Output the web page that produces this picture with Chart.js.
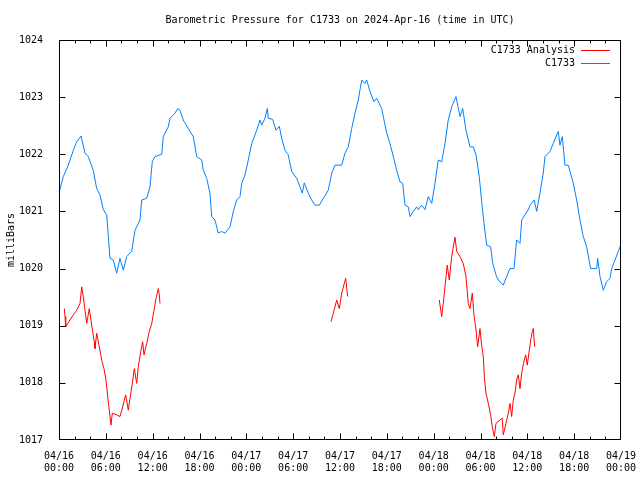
<!DOCTYPE html>
<html>
<head>
<meta charset="utf-8">
<script src="https://cdn.jsdelivr.net/npm/chart.js@4"></script>
<style>
  body { margin: 0; background: #fff; }
  canvas { display: block; }
</style>
</head>
<body>
<canvas id="chart" width="640" height="480"></canvas>
<script>
// hours since 04/16 00:00 UTC
var stationHours = [0.1, 0.55, 1.19, 1.83, 2.27, 2.82, 3.33, 3.75, 4.39, 4.83, 5.25, 5.68, 6.11, 6.32, 6.53, 6.96, 7.39, 7.81, 8.24, 8.67,
    9.31, 9.74, 10.38, 10.59, 11.24, 11.66, 11.95, 12.3, 13.16, 13.36, 14.0, 14.22, 14.86, 15.21, 15.5, 15.92, 16.56, 17.2, 17.64, 18.28,
    18.49, 18.92, 19.34, 19.56, 19.98, 20.41, 20.84, 21.27, 21.91, 22.33, 22.76, 23.19, 23.41, 23.83, 24.25, 24.69, 25.33, 25.75, 25.97, 26.39,
    26.68, 26.81, 27.38, 27.8, 28.22, 28.53, 28.95, 29.37, 29.81, 30.45, 30.87, 31.17, 31.42, 31.94, 32.37, 32.8, 33.35, 33.86, 34.5, 34.94,
    35.36, 36.22, 36.64, 37.06, 37.5, 37.92, 38.34, 38.78, 39.2, 39.42, 39.84, 40.35, 40.7, 41.34, 41.98, 42.4, 42.83, 43.26, 43.68, 44.03,
    44.33, 44.75, 44.97, 45.39, 45.82, 46.03, 46.46, 46.89, 47.31, 47.75, 48.17, 48.59, 49.03, 49.45, 49.87, 50.31, 50.86, 51.37, 51.72, 52.14,
    52.65, 53.08, 53.42, 53.84, 54.15, 54.45, 54.79, 55.3, 55.56, 55.98, 56.28, 56.92, 57.35, 57.78, 58.29, 58.63, 59.06, 59.28, 59.7, 60.12,
    60.34, 60.89, 61.2, 61.62, 62.04, 62.26, 62.9, 63.32, 63.96, 64.18, 64.48, 64.82, 65.24, 65.89, 66.32, 66.74, 67.17, 67.6, 68.11, 68.88,
    69.01, 69.31, 69.73, 70.16, 70.59, 70.81, 71.23, 71.65, 71.96];
var stationValues = [1021.37, 1021.61, 1021.81, 1022.07, 1022.22, 1022.32, 1022.02, 1021.96, 1021.72, 1021.40, 1021.29, 1021.03, 1020.94, 1020.56, 1020.18, 1020.15, 1019.92, 1020.18, 1019.97, 1020.21,
    1020.30, 1020.67, 1020.85, 1021.20, 1021.23, 1021.43, 1021.87, 1021.96, 1022.00, 1022.31, 1022.48, 1022.63, 1022.72, 1022.80, 1022.77, 1022.60, 1022.45, 1022.31, 1021.96, 1021.90,
    1021.72, 1021.58, 1021.32, 1020.91, 1020.85, 1020.62, 1020.65, 1020.62, 1020.73, 1021.00, 1021.20, 1021.26, 1021.49, 1021.64, 1021.90, 1022.19, 1022.42, 1022.60, 1022.51, 1022.63,
    1022.80, 1022.63, 1022.61, 1022.42, 1022.49, 1022.28, 1022.07, 1021.99, 1021.70, 1021.58, 1021.43, 1021.32, 1021.50, 1021.32, 1021.20, 1021.11, 1021.11, 1021.23, 1021.37, 1021.67,
    1021.81, 1021.81, 1022.02, 1022.13, 1022.45, 1022.72, 1022.95, 1023.30, 1023.24, 1023.30, 1023.10, 1022.92, 1022.98, 1022.80, 1022.37, 1022.19, 1021.96, 1021.72, 1021.52, 1021.49,
    1021.11, 1021.08, 1020.91, 1021.00, 1021.08, 1021.03, 1021.11, 1021.03, 1021.26, 1021.14, 1021.49, 1021.90, 1021.87, 1022.19, 1022.60, 1022.83, 1023.01, 1022.66, 1022.80, 1022.42,
    1022.13, 1022.13, 1021.99, 1021.61, 1021.17, 1020.79, 1020.41, 1020.38, 1020.09, 1019.89, 1019.80, 1019.71, 1019.86, 1020.00, 1020.00, 1020.50, 1020.44, 1020.85, 1020.94, 1021.03,
    1021.11, 1021.20, 1021.00, 1021.32, 1021.67, 1021.96, 1022.05, 1022.19, 1022.40, 1022.16, 1022.31, 1021.81, 1021.81, 1021.49, 1021.20, 1020.85, 1020.56, 1020.38, 1020.00, 1020.00,
    1020.18, 1019.86, 1019.62, 1019.77, 1019.83, 1020.00, 1020.15, 1020.30, 1020.41];

// analysis series, null marks a gap in the record
var analysisHours = [0.68, 0.77, 0.86, 1.41, 1.83, 2.27, 2.69, 2.91, 3.11, 3.33, 3.55, 3.88, 4.19, 4.52, 4.61, 4.83, 5.16, 5.47, 5.76, 6.02,
    6.24, 6.44, 6.66, 6.83, 7.39, 7.81, 8.16, 8.54, 8.88, 9.1, 9.39, 9.65, 9.95, 10.16, 10.5, 10.72, 10.89, 11.24, 11.57, 11.88,
    12.17, 12.43, 12.72, 12.85, 12.94, 24.0,
    34.85, 35.14, 35.58, 35.91, 36.22, 36.55, 36.73, 36.98, 42.0,
    48.72, 49.03, 49.23, 49.45, 49.74, 50.0, 50.31, 50.73, 50.95, 51.37, 51.79, 52.14, 52.43, 52.65, 52.95, 53.16, 53.38, 53.64, 53.93, 54.15,
    54.36, 54.49, 54.7, 55.0, 55.3, 55.51, 55.77, 55.98, 56.5, 56.79, 56.92, 57.26, 57.56, 57.78, 57.99, 58.2, 58.42, 58.63, 58.84, 59.06,
    59.28, 59.5, 59.79, 59.99, 60.25, 60.47, 60.63, 60.76, 60.94];
var analysisValues = [1019.30, 1019.16, 1018.98, 1019.10, 1019.19, 1019.27, 1019.39, 1019.68, 1019.51, 1019.27, 1019.04, 1019.30, 1019.01, 1018.72, 1018.60, 1018.87, 1018.63, 1018.40, 1018.25, 1018.05,
    1017.76, 1017.52, 1017.26, 1017.47, 1017.44, 1017.41, 1017.58, 1017.79, 1017.52, 1017.73, 1017.99, 1018.25, 1017.99, 1018.28, 1018.57, 1018.72, 1018.49, 1018.69, 1018.90, 1019.04,
    1019.27, 1019.48, 1019.65, 1019.54, 1019.39, null,
    1019.07, 1019.22, 1019.45, 1019.30, 1019.57, 1019.74, 1019.83, 1019.51, null,
    1019.45, 1019.16, 1019.39, 1019.68, 1020.06, 1019.80, 1020.21, 1020.55, 1020.30, 1020.21, 1020.09, 1019.86, 1019.39, 1019.30, 1019.57, 1019.19, 1018.98, 1018.63, 1018.95, 1018.66,
    1018.46, 1018.11, 1017.82, 1017.64, 1017.44, 1017.23, 1017.06, 1017.29, 1017.35, 1017.38, 1017.09, 1017.29, 1017.47, 1017.64, 1017.41, 1017.70, 1017.82, 1018.05, 1018.14, 1017.90,
    1018.17, 1018.34, 1018.49, 1018.31, 1018.57, 1018.78, 1018.90, 1018.95, 1018.63];

var xTickHours = [0, 6, 12, 18, 24, 30, 36, 42, 48, 54, 60, 66, 72];
var xTickLabels = [['04/16', '00:00'], ['04/16', '06:00'], ['04/16', '12:00'], ['04/16', '18:00'],
    ['04/17', '00:00'], ['04/17', '06:00'], ['04/17', '12:00'], ['04/17', '18:00'],
    ['04/18', '00:00'], ['04/18', '06:00'], ['04/18', '12:00'], ['04/18', '18:00'], ['04/19', '00:00']];
var yTicks = [1017, 1018, 1019, 1020, 1021, 1022, 1023, 1024];

var FONT = '"DejaVu Sans Mono", "Liberation Mono", monospace';

function pairs(xs, ys) {
    var out = [];
    for (var i = 0; i < xs.length; i++) out.push({ x: xs[i], y: ys[i] });
    return out;
}

// gnuplot style frame: box border, inward ticks, legend with sample on the right
var framePlugin = {
    id: 'frame',
    afterDraw: function (chart) {
        var ctx = chart.ctx, a = chart.chartArea;
        var xs = chart.scales.x, ys = chart.scales.y;
        var L = Math.round(a.left) + 0.5, R = Math.round(a.right) - 0.5;
        var T = Math.round(a.top) + 0.5, B = Math.round(a.bottom) - 0.5;
        ctx.save();
        ctx.strokeStyle = '#000';
        ctx.lineWidth = 1;
        ctx.strokeRect(L, T, R - L, B - T);
        ctx.beginPath();
        for (var h = 0; h <= 72; h += 2) {
            var px = Math.min(R, Math.max(L, Math.round(xs.getPixelForValue(h)) + 0.5));
            var len = (h % 6 === 0) ? 6 : 3;
            ctx.moveTo(px, B); ctx.lineTo(px, B - len);
            ctx.moveTo(px, T); ctx.lineTo(px, T + len);
        }
        yTicks.forEach(function (v) {
            var py = Math.min(B, Math.max(T, Math.round(ys.getPixelForValue(v)) + 0.5));
            ctx.moveTo(L, py); ctx.lineTo(L + 6, py);
            ctx.moveTo(R, py); ctx.lineTo(R - 6, py);
        });
        ctx.stroke();

        ctx.font = '10px ' + FONT;
        ctx.textAlign = 'right';
        ctx.textBaseline = 'middle';
        chart.data.datasets.forEach(function (ds, i) {
            var y = a.top + 10 + i * 13;
            ctx.fillStyle = '#000';
            ctx.fillText(ds.label, a.right - 46, y);
            ctx.strokeStyle = ds.borderColor;
            ctx.beginPath();
            ctx.moveTo(a.right - 40, Math.round(y) + 0.5);
            ctx.lineTo(a.right - 11, Math.round(y) + 0.5);
            ctx.stroke();
        });
        ctx.restore();
    }
};

var ctx = document.getElementById('chart').getContext('2d');
var chart = new Chart(ctx, {
    type: 'line',
    data: {
        datasets: [{
            label: 'C1733 Analysis',
            data: pairs(analysisHours, analysisValues),
            borderColor: '#ff0000',
            borderWidth: 1,
            pointRadius: 0,
            spanGaps: false,
            fill: false
        }, {
            label: 'C1733',
            data: pairs(stationHours, stationValues),
            borderColor: '#0080ff',
            borderWidth: 1,
            pointRadius: 0,
            fill: false
        }]
    },
    options: {
        responsive: false,
        animation: false,
        layout: { padding: { left: 0, right: 19, top: 0, bottom: 0 } },
        plugins: {
            legend: { display: false },
            tooltip: { enabled: false },
            title: {
                display: true,
                text: 'Barometric Pressure for C1733 on 2024-Apr-16 (time in UTC)',
                fullSize: false,
                color: '#000',
                font: { family: FONT, size: 10, weight: 'normal', lineHeight: 1.2 },
                padding: { top: 14, bottom: 14 }
            }
        },
        scales: {
            x: {
                type: 'linear',
                min: 0,
                max: 72,
                afterBuildTicks: function (scale) {
                    scale.ticks = xTickHours.map(function (v) { return { value: v }; });
                },
                afterFit: function (scale) {
                    scale.height = 40;
                    scale.paddingLeft = 0;
                    scale.paddingRight = 0;
                },
                grid: { display: false },
                border: { display: false },
                ticks: {
                    color: '#000',
                    padding: 2,
                    maxRotation: 0,
                    autoSkip: false,
                    font: { family: FONT, size: 10, lineHeight: 1.2 },
                    callback: function (v) {
                        var i = xTickHours.indexOf(v);
                        return i >= 0 ? xTickLabels[i] : '';
                    }
                }
            },
            y: {
                min: 1017,
                max: 1024,
                afterBuildTicks: function (scale) {
                    scale.ticks = yTicks.map(function (v) { return { value: v }; });
                },
                afterFit: function (scale) { scale.width = 59; },
                grid: { display: false },
                border: { display: false },
                title: {
                    display: true,
                    text: 'milliBars',
                    color: '#000',
                    font: { family: FONT, size: 10, lineHeight: 1.2 },
                    padding: { top: 5, bottom: 0 }
                },
                ticks: {
                    color: '#000',
                    padding: 8,
                    font: { family: FONT, size: 10 },
                    callback: function (v) { return String(v); }
                }
            }
        }
    },
    plugins: [framePlugin]
});
</script>
</body>
</html>
